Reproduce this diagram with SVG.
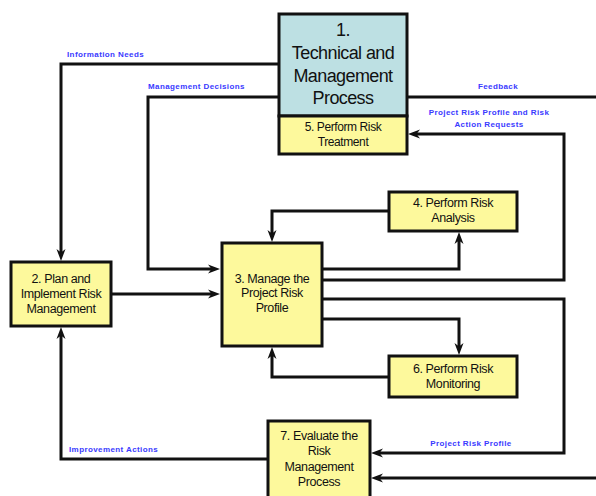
<svg xmlns="http://www.w3.org/2000/svg" width="596" height="496" viewBox="0 0 596 496">
<style>
.box{stroke:#111;stroke-width:3}
.yel{fill:#fdf99c}
.blu{fill:#bde0e3}
.t{font-family:"Liberation Sans",Arial,sans-serif;font-size:12.5px;fill:#111;text-anchor:middle;letter-spacing:-0.4px}
.big{font-size:18px;letter-spacing:-0.6px}
.sm{font-size:12px}
.lab{font-family:"Liberation Sans",Arial,sans-serif;font-size:8px;font-weight:bold;fill:#3a3aff;letter-spacing:0.4px}
.c{fill:none;stroke:#111;stroke-width:3;stroke-linejoin:miter}
</style>
<defs>
<marker id="ah" markerUnits="userSpaceOnUse" markerWidth="13" markerHeight="10" refX="7" refY="5" orient="auto">
<path d="M0,0.5 L12,5 L0,9.5 L3.5,5 Z" fill="#111"/>
</marker>
</defs>
<rect width="596" height="496" fill="#fff"/>
<g id="connectors">
<path class="c" d="M279,64 H61 V256" marker-end="url(#ah)"/>
<path class="c" d="M279,97 H148 V269 H215" marker-end="url(#ah)"/>
<path class="c" d="M111,294 H215" marker-end="url(#ah)"/>
<path class="c" d="M389,211 H272 V237" marker-end="url(#ah)"/>
<path class="c" d="M322,269 H459 V237" marker-end="url(#ah)"/>
<path class="c" d="M407,97 H596"/>
<path class="c" d="M322,280 H564 V134 H413" marker-end="url(#ah)"/>
<path class="c" d="M322,299 H564 V453 H376" marker-end="url(#ah)"/>
<path class="c" d="M322,319 H459 V350" marker-end="url(#ah)"/>
<path class="c" d="M389,377 H272 V352" marker-end="url(#ah)"/>
<path class="c" d="M596,478 H376" marker-end="url(#ah)"/>
<path class="c" d="M268,459 H61 V332" marker-end="url(#ah)"/>
<text class="lab" x="67" y="57">Information Needs</text>
<text class="lab" x="148" y="89">Management Decisions</text>
<text class="lab" x="498" y="89" text-anchor="middle">Feedback</text>
<text class="lab" x="489" y="115" text-anchor="middle">Project Risk Profile and Risk</text>
<text class="lab" x="489" y="127" text-anchor="middle">Action Requests</text>
<text class="lab" x="69" y="452">Improvement Actions</text>
<text class="lab" x="471" y="446" text-anchor="middle">Project Risk Profile</text>
</g>
<g id="node1">
<rect class="box blu" x="279" y="14" width="128" height="102"/>
<text class="t big" x="343" y="36">1.</text>
<text class="t big" x="343" y="59">Technical and</text>
<text class="t big" x="343" y="82">Management</text>
<text class="t big" x="343" y="104">Process</text>
</g>
<g id="node5">
<rect class="box yel" x="279" y="116" width="128" height="38"/>
<text class="t sm" x="343" y="131">5. Perform Risk</text>
<text class="t sm" x="343" y="146">Treatment</text>
</g>
<g id="node2">
<rect class="box yel" x="11" y="262" width="100" height="64"/>
<text class="t" x="61" y="283">2. Plan and</text>
<text class="t" x="61" y="298">Implement Risk</text>
<text class="t" x="61" y="313">Management</text>
</g>
<g id="node3">
<rect class="box yel" x="222" y="243" width="100" height="103"/>
<text class="t" x="272" y="283">3. Manage the</text>
<text class="t" x="272" y="297">Project Risk</text>
<text class="t" x="272" y="312">Profile</text>
</g>
<g id="node4">
<rect class="box yel" x="389" y="192" width="128" height="39"/>
<text class="t" x="453" y="207">4. Perform Risk</text>
<text class="t" x="453" y="222">Analysis</text>
</g>
<g id="node6">
<rect class="box yel" x="389" y="356" width="128" height="41"/>
<text class="t" x="453" y="373">6. Perform Risk</text>
<text class="t" x="453" y="388">Monitoring</text>
</g>
<g id="node7">
<rect class="box yel" x="268" y="421" width="102" height="80"/>
<text class="t" x="319" y="440">7. Evaluate the</text>
<text class="t" x="319" y="455">Risk</text>
<text class="t" x="319" y="471">Management</text>
<text class="t" x="319" y="486">Process</text>
</g>
</svg>
